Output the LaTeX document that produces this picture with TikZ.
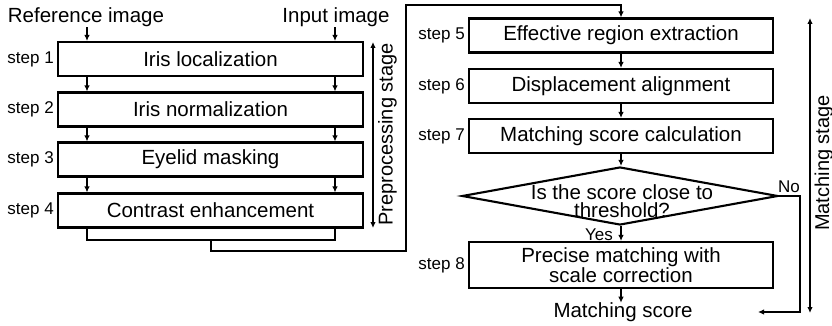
\documentclass[tikz,border=0pt]{standalone}
\usepackage{fontspec}
\setmainfont{Liberation Sans}
\usetikzlibrary{shapes.geometric,arrows.meta,calc}
\begin{document}
\begin{tikzpicture}[x=1pt,y=-1pt,
  box/.style={draw, line width=2.1pt, minimum width=305pt, minimum height=34pt, inner sep=0pt, font=\fontsize{20.5}{20}\selectfont},
  steplbl/.style={anchor=east, inner sep=0pt, font=\fontsize{17}{17}\selectfont},
  conn/.style={line width=1.6pt},
  arr/.style={conn, -{Latex[length=6pt,width=5.5pt]}},
  arrb/.style={conn, {Latex[length=6pt,width=5.5pt]}-{Latex[length=6pt,width=5.5pt]}},
  lbl/.style={inner sep=0pt, font=\fontsize{20.5}{20}\selectfont},
  vlbl/.style={inner sep=0pt, rotate=90, font=\fontsize{20}{20}\selectfont},
  small/.style={inner sep=0pt, font=\fontsize{17}{17}\selectfont},
]
\useasboundingbox (0,0) rectangle (832,326);

% left column
\node[lbl] (ref) at (86,17.5) {Reference image};
\node[lbl] (inp) at (336,17.5) {Input image};
\coordinate (xl) at (87,0);
\coordinate (xr) at (335,0);

\node[box] (b1) at (210.5,59) {Iris localization};
\node[box] (b2) at (210.5,109.5) {Iris normalization};
\node[box] (b3) at (210.5,159.5) {Eyelid masking};
\node[box] (b4) at (210.5,210.5) {Contrast enhancement};

\node[steplbl] (s1) at ($(b1.west)+(-3,0)$) {step 1};
\node[steplbl] (s2) at ($(b2.west)+(-3,0)$) {step 2};
\node[steplbl] (s3) at ($(b3.west)+(-3,0)$) {step 3};
\node[steplbl] (s4) at ($(b4.west)+(-3,0)$) {step 4};

\draw[arr] (ref.south -| xl) -- (b1.north -| xl);
\draw[arr] (inp.south -| xr) -- (b1.north -| xr);
\draw[arr] (b1.south -| xl) -- (b2.north -| xl);
\draw[arr] (b1.south -| xr) -- (b2.north -| xr);
\draw[arr] (b2.south -| xl) -- (b3.north -| xl);
\draw[arr] (b2.south -| xr) -- (b3.north -| xr);
\draw[arr] (b3.south -| xl) -- (b4.north -| xl);
\draw[arr] (b3.south -| xr) -- (b4.north -| xr);

\coordinate (mid) at (211,240);
\draw[conn] (b4.south -| xl) |- (mid) -| (b4.south -| xr);

% preprocessing stage
\coordinate (pa1) at (373,42);
\coordinate (pa2) at (373,228);
\draw[arrb] (pa1) -- (pa2);
\node[vlbl] (plab) at (387.5,134.5) {Preprocessing stage};

% right column
\node[box, minimum width=304pt] (b5) at (621,35.5) {Effective region extraction};
\node[box, minimum width=304pt] (b6) at (621,86) {Displacement alignment};
\node[box, minimum width=304pt] (b7) at (621,136) {Matching score calculation};
\node[diamond, draw, line width=2.1pt, minimum width=316pt, minimum height=58pt, inner sep=0pt] (d) at (620,196) {};
\node[lbl, align=center, font=\fontsize{20.5}{18.5}\selectfont] (dt) at (622,201) {Is the score close to\\threshold?};
\node[box, minimum width=304pt, minimum height=46pt, align=center] (b8) at (621,265) {Precise matching with\\scale correction};
\node[lbl] (ms) at (623,312.5) {Matching score};

\node[steplbl] (s5) at ($(b5.west)+(-3,0)$) {step 5};
\node[steplbl] (s6) at ($(b6.west)+(-3,0)$) {step 6};
\node[steplbl] (s7) at ($(b7.west)+(-3,0)$) {step 7};
\node[steplbl] (s8) at ($(b8.west)+(-3,0)$) {step 8};

\coordinate (r1) at (406,251);
\coordinate (r2) at (406,5);
\draw[arr] (mid) |- (r1) -- (r2) -| (b5.north);

\draw[arr] (b5.south) -- (b6.north);
\draw[arr] (b6.south) -- (b7.north);
\draw[arr] (b7.south) -- (b7.south |- d.north);
\draw[arr] (b7.south |- d.south) -- (b8.north);
\node[small, anchor=east] (yes) at (613,235) {Yes};
\draw[arr] (b8.south) -- (b8.south |- ms.north);

\coordinate (nc) at (800,312);
\coordinate (noend) at (758,312);
\draw[arr] (d.east) -- (d.east -| nc) -- (nc) -- (noend);
\node[small] (no) at (789,187) {No};

% matching stage
\coordinate (ma1) at (810,18);
\coordinate (ma2) at (810,313);
\draw[arrb] (ma1) -- (ma2);
\node[vlbl] (mlab) at (824,163) {Matching stage};
\end{tikzpicture}
\end{document}
